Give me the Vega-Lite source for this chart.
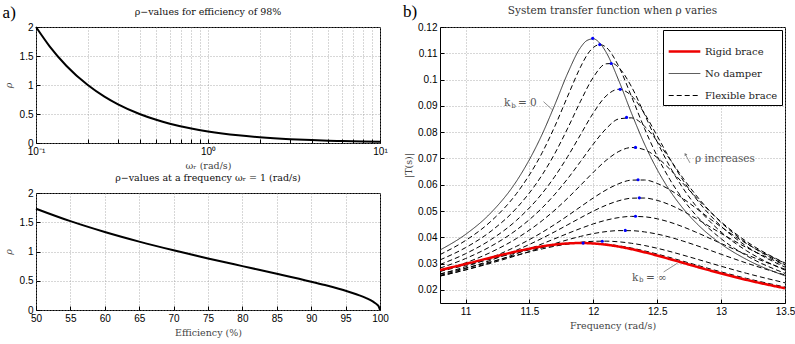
{
  "$schema": "https://vega.github.io/schema/vega-lite/v6.json",
  "background": "white",
  "padding": {"left": 2, "top": 3, "right": 2, "bottom": 2},
  "spacing": 14,
  "resolve": {"legend": {"color": "independent", "strokeDash": "independent", "strokeWidth": "independent"}},
  "hconcat": [
    {
      "title": {"text": "a)", "anchor": "start", "frame": "bounds", "font": "Liberation Serif", "fontSize": 17, "fontWeight": "normal", "color": "black", "offset": -16},
      "spacing": 2,
      "vconcat": [
        {
          "width": 344, "height": 116,
          "title": {"text": "ρ−values for efficiency of 98%", "offset": 6, "color": "#111", "fontSize": 9.5},
          "data": {"values": [
            {"w": 0.1, "rho": 2.0}, {"w": 0.12, "rho": 1.667}, {"w": 0.15, "rho": 1.333}, {"w": 0.2, "rho": 1.0},
            {"w": 0.25, "rho": 0.8}, {"w": 0.3, "rho": 0.667}, {"w": 0.4, "rho": 0.5}, {"w": 0.5, "rho": 0.4},
            {"w": 0.6, "rho": 0.333}, {"w": 0.8, "rho": 0.25}, {"w": 1, "rho": 0.2}, {"w": 1.5, "rho": 0.133},
            {"w": 2, "rho": 0.1}, {"w": 3, "rho": 0.0667}, {"w": 4, "rho": 0.05}, {"w": 5, "rho": 0.04},
            {"w": 6, "rho": 0.0333}, {"w": 8, "rho": 0.025}, {"w": 10, "rho": 0.02}
          ]},
          "mark": {"type": "line", "color": "black", "strokeWidth": 2, "interpolate": "monotone"},
          "encoding": {
            "x": {"field": "w", "type": "quantitative", "scale": {"type": "log", "domain": [0.1, 10], "nice": false},
              "axis": {"title": "ωᵣ (rad/s)", "grid": true, "labelOverlap": false, "values": [0.1, 0.2, 0.3, 0.4, 0.5, 0.6, 0.7, 0.8, 0.9, 1, 2, 3, 4, 5, 6, 7, 8, 9, 10],
                "labelExpr": "datum.value == 0.1 ? '10⁻¹' : datum.value == 1 ? '10⁰' : datum.value == 10 ? '10¹' : ''"}},
            "y": {"field": "rho", "type": "quantitative", "scale": {"domain": [0, 2], "nice": false},
              "axis": {"title": "ρ", "titleFontStyle": "italic", "grid": true, "labelOverlap": false, "values": [0, 0.5, 1, 1.5, 2], "format": ".2~g", "titlePadding": 6}}
          }
        },
        {
          "width": 344, "height": 117,
          "title": {"text": "ρ−values at a frequency ωᵣ = 1 (rad/s)", "offset": 6, "color": "#111", "fontSize": 9.5},
          "data": {"values": [
            {"e": 50, "rho": 1.732}, {"e": 55, "rho": 1.5185}, {"e": 60, "rho": 1.3333}, {"e": 65, "rho": 1.1691},
            {"e": 70, "rho": 1.0202}, {"e": 75, "rho": 0.8819}, {"e": 80, "rho": 0.75}, {"e": 85, "rho": 0.6197},
            {"e": 90, "rho": 0.4843}, {"e": 92, "rho": 0.426}, {"e": 94, "rho": 0.363}, {"e": 95, "rho": 0.3287},
            {"e": 96, "rho": 0.2917}, {"e": 97, "rho": 0.2506}, {"e": 98, "rho": 0.2031}, {"e": 99, "rho": 0.1425},
            {"e": 99.5, "rho": 0.1004}, {"e": 99.8, "rho": 0.0633}, {"e": 100, "rho": 0.0}
          ]},
          "mark": {"type": "line", "color": "black", "strokeWidth": 2, "interpolate": "monotone"},
          "encoding": {
            "x": {"field": "e", "type": "quantitative", "scale": {"domain": [50, 100], "nice": false},
              "axis": {"title": "Efficiency (%)", "grid": true, "labelOverlap": false, "values": [50, 55, 60, 65, 70, 75, 80, 85, 90, 95, 100]}},
            "y": {"field": "rho", "type": "quantitative", "scale": {"domain": [0, 2], "nice": false},
              "axis": {"title": "ρ", "titleFontStyle": "italic", "grid": true, "labelOverlap": false, "values": [0, 0.5, 1, 1.5, 2], "format": ".2~g", "titlePadding": 6}}
          }
        }
      ]
    },
    {
      "title": {"text": "b)", "anchor": "start", "frame": "bounds", "font": "Liberation Serif", "fontSize": 17, "fontWeight": "normal", "color": "black", "offset": -16},
      "resolve": {"legend": {"color": "independent", "strokeDash": "independent", "strokeWidth": "independent"}},
      "hconcat": [
        {
          "width": 345, "height": 276,
          "title": {"text": "System transfer function when ρ varies", "offset": 6, "fontSize": 10.5},
          "encoding": {
            "x": {"field": "f", "type": "quantitative", "scale": {"domain": [10.8, 13.5], "nice": false, "zero": false},
              "axis": {"title": "Frequency (rad/s)", "labelOverlap": false, "values": [11, 11.5, 12, 12.5, 13, 13.5], "format": ".3~g"}},
            "y": {"field": "t", "type": "quantitative", "scale": {"domain": [0.015, 0.12], "nice": false, "zero": false},
              "axis": {"title": "|T(s)|", "labelOverlap": false, "values": [0.02, 0.03, 0.04, 0.05, 0.06, 0.07, 0.08, 0.09, 0.1, 0.11, 0.12], "format": ".3~g", "titlePadding": 4}}
          },
          "layer": [
            {
              "data": {"values": [
                {"c":"k1","s":"F","f":10.8,"t":0.03342},{"c":"k1","s":"F","f":11.0,"t":0.03878},{"c":"k1","s":"F","f":11.2,"t":0.04615},{"c":"k1","s":"F","f":11.4,"t":0.05671},{"c":"k1","s":"F","f":11.6,"t":0.07222},{"c":"k1","s":"F","f":11.7,"t":0.08236},{"c":"k1","s":"F","f":11.8,"t":0.09376},{"c":"k1","s":"F","f":11.9,"t":0.1048},{"c":"k1","s":"F","f":11.95,"t":0.1093},{"c":"k1","s":"F","f":12.0,"t":0.1122},{"c":"k1","s":"F","f":12.05,"t":0.1133},{"c":"k1","s":"F","f":12.1,"t":0.1123},{"c":"k1","s":"F","f":12.2,"t":0.1049},{"c":"k1","s":"F","f":12.3,"t":0.0934},{"c":"k1","s":"F","f":12.4,"t":0.08147},{"c":"k1","s":"F","f":12.5,"t":0.07083},{"c":"k1","s":"F","f":12.6,"t":0.0619},{"c":"k1","s":"F","f":12.7,"t":0.05457},{"c":"k1","s":"F","f":12.8,"t":0.04855},{"c":"k1","s":"F","f":13.0,"t":0.03944},{"c":"k1","s":"F","f":13.2,"t":0.03298},{"c":"k1","s":"F","f":13.5,"t":0.02628},
                {"c":"k2","s":"F","f":10.8,"t":0.03139},{"c":"k2","s":"F","f":11.0,"t":0.03606},{"c":"k2","s":"F","f":11.2,"t":0.04236},{"c":"k2","s":"F","f":11.4,"t":0.05115},{"c":"k2","s":"F","f":11.6,"t":0.06378},{"c":"k2","s":"F","f":11.7,"t":0.072},{"c":"k2","s":"F","f":11.8,"t":0.08154},{"c":"k2","s":"F","f":11.9,"t":0.09176},{"c":"k2","s":"F","f":12.0,"t":0.1009},{"c":"k2","s":"F","f":12.1,"t":0.106},{"c":"k2","s":"F","f":12.15,"t":0.1061},{"c":"k2","s":"F","f":12.2,"t":0.1045},{"c":"k2","s":"F","f":12.3,"t":0.09715},{"c":"k2","s":"F","f":12.4,"t":0.08683},{"c":"k2","s":"F","f":12.5,"t":0.07627},{"c":"k2","s":"F","f":12.6,"t":0.06682},{"c":"k2","s":"F","f":12.7,"t":0.0588},{"c":"k2","s":"F","f":12.8,"t":0.05213},{"c":"k2","s":"F","f":13.0,"t":0.042},{"c":"k2","s":"F","f":13.2,"t":0.03485},{"c":"k2","s":"F","f":13.5,"t":0.02751},
                {"c":"k3","s":"F","f":10.8,"t":0.02965},{"c":"k3","s":"F","f":11.0,"t":0.03375},{"c":"k3","s":"F","f":11.2,"t":0.03916},{"c":"k3","s":"F","f":11.4,"t":0.04651},{"c":"k3","s":"F","f":11.6,"t":0.05673},{"c":"k3","s":"F","f":11.7,"t":0.06325},{"c":"k3","s":"F","f":11.8,"t":0.07077},{"c":"k3","s":"F","f":11.9,"t":0.07907},{"c":"k3","s":"F","f":12.0,"t":0.0873},{"c":"k3","s":"F","f":12.1,"t":0.09377},{"c":"k3","s":"F","f":12.2,"t":0.09631},{"c":"k3","s":"F","f":12.3,"t":0.09378},{"c":"k3","s":"F","f":12.4,"t":0.08713},{"c":"k3","s":"F","f":12.5,"t":0.07853},{"c":"k3","s":"F","f":12.6,"t":0.06978},{"c":"k3","s":"F","f":12.7,"t":0.06183},{"c":"k3","s":"F","f":12.8,"t":0.05495},{"c":"k3","s":"F","f":13.0,"t":0.04422},{"c":"k3","s":"F","f":13.2,"t":0.03654},{"c":"k3","s":"F","f":13.5,"t":0.02866},
                {"c":"k4","s":"F","f":10.8,"t":0.02826},{"c":"k4","s":"F","f":11.0,"t":0.03191},{"c":"k4","s":"F","f":11.2,"t":0.03662},{"c":"k4","s":"F","f":11.4,"t":0.04285},{"c":"k4","s":"F","f":11.6,"t":0.05122},{"c":"k4","s":"F","f":11.7,"t":0.05643},{"c":"k4","s":"F","f":11.8,"t":0.06234},{"c":"k4","s":"F","f":11.9,"t":0.06884},{"c":"k4","s":"F","f":12.0,"t":0.07546},{"c":"k4","s":"F","f":12.1,"t":0.08131},{"c":"k4","s":"F","f":12.2,"t":0.08504},{"c":"k4","s":"F","f":12.3,"t":0.08543},{"c":"k4","s":"F","f":12.4,"t":0.08229},{"c":"k4","s":"F","f":12.5,"t":0.07655},{"c":"k4","s":"F","f":12.6,"t":0.06963},{"c":"k4","s":"F","f":12.7,"t":0.06266},{"c":"k4","s":"F","f":12.8,"t":0.05623},{"c":"k4","s":"F","f":13.0,"t":0.04563},{"c":"k4","s":"F","f":13.2,"t":0.03777},{"c":"k4","s":"F","f":13.5,"t":0.02958},
                {"c":"k5","s":"F","f":10.8,"t":0.02703},{"c":"k5","s":"F","f":11.0,"t":0.03026},{"c":"k5","s":"F","f":11.2,"t":0.03434},{"c":"k5","s":"F","f":11.4,"t":0.03958},{"c":"k5","s":"F","f":11.6,"t":0.04635},{"c":"k5","s":"F","f":11.7,"t":0.05041},{"c":"k5","s":"F","f":11.8,"t":0.05492},{"c":"k5","s":"F","f":11.9,"t":0.05978},{"c":"k5","s":"F","f":12.0,"t":0.06473},{"c":"k5","s":"F","f":12.1,"t":0.06926},{"c":"k5","s":"F","f":12.2,"t":0.07266},{"c":"k5","s":"F","f":12.3,"t":0.07416},{"c":"k5","s":"F","f":12.4,"t":0.07333},{"c":"k5","s":"F","f":12.5,"t":0.07032},{"c":"k5","s":"F","f":12.6,"t":0.06582},{"c":"k5","s":"F","f":12.7,"t":0.06062},{"c":"k5","s":"F","f":12.8,"t":0.05535},{"c":"k5","s":"F","f":13.0,"t":0.04588},{"c":"k5","s":"F","f":13.2,"t":0.03836},{"c":"k5","s":"F","f":13.5,"t":0.0302},
                {"c":"k6","s":"F","f":10.8,"t":0.02597},{"c":"k6","s":"F","f":11.0,"t":0.02881},{"c":"k6","s":"F","f":11.2,"t":0.03229},{"c":"k6","s":"F","f":11.4,"t":0.0366},{"c":"k6","s":"F","f":11.6,"t":0.0419},{"c":"k6","s":"F","f":11.7,"t":0.04495},{"c":"k6","s":"F","f":11.8,"t":0.04821},{"c":"k6","s":"F","f":11.9,"t":0.05161},{"c":"k6","s":"F","f":12.0,"t":0.05497},{"c":"k6","s":"F","f":12.1,"t":0.05801},{"c":"k6","s":"F","f":12.2,"t":0.0604},{"c":"k6","s":"F","f":12.3,"t":0.06174},{"c":"k6","s":"F","f":12.4,"t":0.06179},{"c":"k6","s":"F","f":12.5,"t":0.06048},{"c":"k6","s":"F","f":12.6,"t":0.05804},{"c":"k6","s":"F","f":12.7,"t":0.05482},{"c":"k6","s":"F","f":12.8,"t":0.05121},{"c":"k6","s":"F","f":13.0,"t":0.04395},{"c":"k6","s":"F","f":13.2,"t":0.03757},{"c":"k6","s":"F","f":13.5,"t":0.03012},
                {"c":"k7","s":"F","f":10.8,"t":0.02551},{"c":"k7","s":"F","f":11.0,"t":0.02813},{"c":"k7","s":"F","f":11.2,"t":0.0313},{"c":"k7","s":"F","f":11.4,"t":0.03511},{"c":"k7","s":"F","f":11.6,"t":0.03964},{"c":"k7","s":"F","f":11.7,"t":0.04215},{"c":"k7","s":"F","f":11.8,"t":0.04477},{"c":"k7","s":"F","f":11.9,"t":0.04742},{"c":"k7","s":"F","f":12.0,"t":0.04996},{"c":"k7","s":"F","f":12.1,"t":0.0522},{"c":"k7","s":"F","f":12.2,"t":0.05391},{"c":"k7","s":"F","f":12.3,"t":0.05487},{"c":"k7","s":"F","f":12.4,"t":0.05493},{"c":"k7","s":"F","f":12.5,"t":0.05404},{"c":"k7","s":"F","f":12.6,"t":0.05233},{"c":"k7","s":"F","f":12.7,"t":0.04999},{"c":"k7","s":"F","f":12.8,"t":0.04727},{"c":"k7","s":"F","f":13.0,"t":0.04148},{"c":"k7","s":"F","f":13.2,"t":0.03607},{"c":"k7","s":"F","f":13.5,"t":0.02942},
                {"c":"k8","s":"F","f":10.8,"t":0.02522},{"c":"k8","s":"F","f":11.0,"t":0.02764},{"c":"k8","s":"F","f":11.2,"t":0.03048},{"c":"k8","s":"F","f":11.4,"t":0.03379},{"c":"k8","s":"F","f":11.6,"t":0.03752},{"c":"k8","s":"F","f":11.7,"t":0.03949},{"c":"k8","s":"F","f":11.8,"t":0.04146},{"c":"k8","s":"F","f":11.9,"t":0.04336},{"c":"k8","s":"F","f":12.0,"t":0.04509},{"c":"k8","s":"F","f":12.1,"t":0.04651},{"c":"k8","s":"F","f":12.2,"t":0.0475},{"c":"k8","s":"F","f":12.3,"t":0.04795},{"c":"k8","s":"F","f":12.4,"t":0.04779},{"c":"k8","s":"F","f":12.5,"t":0.04703},{"c":"k8","s":"F","f":12.6,"t":0.04573},{"c":"k8","s":"F","f":12.7,"t":0.04401},{"c":"k8","s":"F","f":12.8,"t":0.04201},{"c":"k8","s":"F","f":13.0,"t":0.03765},{"c":"k8","s":"F","f":13.2,"t":0.03339},{"c":"k8","s":"F","f":13.5,"t":0.02785},
                {"c":"k9","s":"F","f":10.8,"t":0.0253},{"c":"k9","s":"F","f":11.0,"t":0.02757},{"c":"k9","s":"F","f":11.2,"t":0.03017},{"c":"k9","s":"F","f":11.4,"t":0.03305},{"c":"k9","s":"F","f":11.6,"t":0.03611},{"c":"k9","s":"F","f":11.7,"t":0.03763},{"c":"k9","s":"F","f":11.8,"t":0.03906},{"c":"k9","s":"F","f":11.9,"t":0.04034},{"c":"k9","s":"F","f":12.0,"t":0.0414},{"c":"k9","s":"F","f":12.1,"t":0.04216},{"c":"k9","s":"F","f":12.2,"t":0.04254},{"c":"k9","s":"F","f":12.3,"t":0.04251},{"c":"k9","s":"F","f":12.4,"t":0.04205},{"c":"k9","s":"F","f":12.5,"t":0.04121},{"c":"k9","s":"F","f":12.6,"t":0.04003},{"c":"k9","s":"F","f":12.7,"t":0.03859},{"c":"k9","s":"F","f":12.8,"t":0.03699},{"c":"k9","s":"F","f":13.0,"t":0.03355},{"c":"k9","s":"F","f":13.2,"t":0.03017},{"c":"k9","s":"F","f":13.5,"t":0.02567},
                {"c":"k10","s":"F","f":10.8,"t":0.02607},{"c":"k10","s":"F","f":11.0,"t":0.02829},{"c":"k10","s":"F","f":11.2,"t":0.03071},{"c":"k10","s":"F","f":11.4,"t":0.03321},{"c":"k10","s":"F","f":11.6,"t":0.03559},{"c":"k10","s":"F","f":11.7,"t":0.03662},{"c":"k10","s":"F","f":11.8,"t":0.03748},{"c":"k10","s":"F","f":11.9,"t":0.03811},{"c":"k10","s":"F","f":12.0,"t":0.03847},{"c":"k10","s":"F","f":12.1,"t":0.03853},{"c":"k10","s":"F","f":12.2,"t":0.03827},{"c":"k10","s":"F","f":12.3,"t":0.03771},{"c":"k10","s":"F","f":12.4,"t":0.03688},{"c":"k10","s":"F","f":12.5,"t":0.03582},{"c":"k10","s":"F","f":12.6,"t":0.03459},{"c":"k10","s":"F","f":12.7,"t":0.03324},{"c":"k10","s":"F","f":12.8,"t":0.03184},{"c":"k10","s":"F","f":13.0,"t":0.02899},{"c":"k10","s":"F","f":13.2,"t":0.02628},{"c":"k10","s":"F","f":13.5,"t":0.02268},
                {"c":"k11","s":"F","f":10.8,"t":0.02706},{"c":"k11","s":"F","f":11.0,"t":0.02934},{"c":"k11","s":"F","f":11.2,"t":0.03175},{"c":"k11","s":"F","f":11.4,"t":0.03412},{"c":"k11","s":"F","f":11.6,"t":0.03615},{"c":"k11","s":"F","f":11.7,"t":0.03692},{"c":"k11","s":"F","f":11.8,"t":0.03746},{"c":"k11","s":"F","f":11.9,"t":0.03773},{"c":"k11","s":"F","f":12.0,"t":0.0377},{"c":"k11","s":"F","f":12.1,"t":0.03738},{"c":"k11","s":"F","f":12.2,"t":0.03677},{"c":"k11","s":"F","f":12.3,"t":0.0359},{"c":"k11","s":"F","f":12.4,"t":0.03484},{"c":"k11","s":"F","f":12.5,"t":0.03362},{"c":"k11","s":"F","f":12.6,"t":0.0323},{"c":"k11","s":"F","f":12.7,"t":0.03093},{"c":"k11","s":"F","f":12.8,"t":0.02954},{"c":"k11","s":"F","f":13.0,"t":0.02684},{"c":"k11","s":"F","f":13.2,"t":0.02435},{"c":"k11","s":"F","f":13.5,"t":0.02108},
                {"c":"N","s":"N","f":10.8,"t":0.03515},{"c":"N","s":"N","f":11.0,"t":0.0411},{"c":"N","s":"N","f":11.2,"t":0.0494},{"c":"N","s":"N","f":11.4,"t":0.06145},{"c":"N","s":"N","f":11.6,"t":0.07925},{"c":"N","s":"N","f":11.7,"t":0.09059},{"c":"N","s":"N","f":11.8,"t":0.1025},{"c":"N","s":"N","f":11.9,"t":0.1122},{"c":"N","s":"N","f":11.95,"t":0.11486},{"c":"N","s":"N","f":12.0,"t":0.1155},{"c":"N","s":"N","f":12.05,"t":0.1139},{"c":"N","s":"N","f":12.1,"t":0.1104},{"c":"N","s":"N","f":12.2,"t":0.09952},{"c":"N","s":"N","f":12.3,"t":0.08706},{"c":"N","s":"N","f":12.4,"t":0.07552},{"c":"N","s":"N","f":12.5,"t":0.06573},{"c":"N","s":"N","f":12.6,"t":0.05768},{"c":"N","s":"N","f":12.7,"t":0.0511},{"c":"N","s":"N","f":12.8,"t":0.04569},{"c":"N","s":"N","f":13.0,"t":0.03745},{"c":"N","s":"N","f":13.2,"t":0.03154},{"c":"N","s":"N","f":13.5,"t":0.02534},
                {"c":"R","s":"R","f":10.8,"t":0.02752},{"c":"R","s":"R","f":11.0,"t":0.02985},{"c":"R","s":"R","f":11.2,"t":0.03229},{"c":"R","s":"R","f":11.4,"t":0.03463},{"c":"R","s":"R","f":11.6,"t":0.03655},{"c":"R","s":"R","f":11.7,"t":0.03723},{"c":"R","s":"R","f":11.8,"t":0.03766},{"c":"R","s":"R","f":11.9,"t":0.03781},{"c":"R","s":"R","f":12.0,"t":0.03765},{"c":"R","s":"R","f":12.1,"t":0.03718},{"c":"R","s":"R","f":12.2,"t":0.03645},{"c":"R","s":"R","f":12.3,"t":0.03548},{"c":"R","s":"R","f":12.4,"t":0.03432},{"c":"R","s":"R","f":12.5,"t":0.03305},{"c":"R","s":"R","f":12.6,"t":0.03169},{"c":"R","s":"R","f":12.7,"t":0.0303},{"c":"R","s":"R","f":12.8,"t":0.02891},{"c":"R","s":"R","f":13.0,"t":0.02623},{"c":"R","s":"R","f":13.2,"t":0.02378},{"c":"R","s":"R","f":13.5,"t":0.0206}
              ]},
              "mark": {"type": "line", "interpolate": "monotone"},
              "encoding": {
                "detail": {"field": "c"},
                "color": {"field": "s", "type": "nominal", "scale": {"domain": ["R", "N", "F"], "range": ["#ee0000", "#333333", "#000000"]},
                  "legend": {"labelExpr": "datum.label == 'R' ? 'Rigid brace' : datum.label == 'N' ? 'No damper' : 'Flexible brace'"}},
                "strokeDash": {"field": "s", "type": "nominal", "scale": {"domain": ["R", "N", "F"], "range": [[1, 0], [1, 0], [5, 3]]},
                  "legend": {"labelExpr": "datum.label == 'R' ? 'Rigid brace' : datum.label == 'N' ? 'No damper' : 'Flexible brace'"}},
                "strokeWidth": {"field": "s", "type": "nominal", "scale": {"type": "ordinal", "domain": ["R", "N", "F"], "range": [2.5, 1, 1]},
                  "legend": {"labelExpr": "datum.label == 'R' ? 'Rigid brace' : datum.label == 'N' ? 'No damper' : 'Flexible brace'"}}
              }
            },
            {
              "data": {"values": [
                {"f": 11.995, "t": 0.1157}, {"f": 12.05, "t": 0.1133}, {"f": 12.14, "t": 0.1061}, {"f": 12.21, "t": 0.0963},
                {"f": 12.26, "t": 0.0856}, {"f": 12.33, "t": 0.0742}, {"f": 12.35, "t": 0.0619}, {"f": 12.36, "t": 0.055},
                {"f": 12.33, "t": 0.048}, {"f": 12.25, "t": 0.0426}, {"f": 12.07, "t": 0.0385}, {"f": 11.92, "t": 0.0378}
              ]},
              "mark": {"type": "point", "filled": true, "color": "#0000ff", "size": 10, "opacity": 1}
            },
            {
              "data": {"values": [
                {"f": 11.61, "t": 0.0916, "f2": 11.675, "t2": 0.0887},
                {"f": 12.55, "t": 0.0268, "f2": 12.66, "t2": 0.0302},
                {"f": 12.756, "t": 0.0683, "f2": 12.722, "t2": 0.0714}
              ]},
              "mark": {"type": "rule", "color": "#777", "strokeWidth": 0.8},
              "encoding": {"x2": {"field": "f2"}, "y2": {"field": "t2"}}
            },
            {
              "data": {"values": [{"f": 12.72, "t": 0.0716}]},
              "mark": {"type": "point", "shape": "triangle-up", "filled": true, "color": "#777", "size": 10, "angle": 330, "opacity": 1}
            },
            {
              "data": {"values": [
                {"f": 11.301, "t": 0.0911, "label": "k"}, {"f": 11.41, "t": 0.0911, "label": "= 0"},
                {"f": 12.302, "t": 0.0247, "label": "k"}, {"f": 12.412, "t": 0.0247, "label": "= ∞"},
                {"f": 12.795, "t": 0.0699, "label": "ρ increases"}
              ]},
              "mark": {"type": "text", "align": "left", "baseline": "middle", "font": "DejaVu Serif", "fontSize": 10.5, "color": "#555"},
              "encoding": {"text": {"field": "label"}}
            },
            {
              "data": {"values": [
                {"f": 11.357, "t": 0.0900, "label": "b"}, {"f": 12.358, "t": 0.0236, "label": "b"}
              ]},
              "mark": {"type": "text", "align": "left", "baseline": "middle", "font": "DejaVu Serif", "fontSize": 7, "color": "#555"},
              "encoding": {"text": {"field": "label"}}
            }
          ]
        }
      ]
    }
  ],
  "config": {
    "view": {"stroke": "black", "strokeWidth": 1},
    "axis": {"domain": false, "labelFont": "Liberation Sans", "labelFontSize": 10, "labelColor": "black", "tickColor": "black", "tickSize": -4, "labelPadding": 7,
      "titleFont": "DejaVu Serif", "titleFontSize": 9.5, "titleFontWeight": "normal", "titleColor": "#444",
      "gridColor": "#999", "gridDash": [1, 2], "gridWidth": 0.8, "labelFlush": false, "labelOverlap": false},
    "title": {"font": "DejaVu Serif", "fontSize": 10, "fontWeight": "normal", "color": "#333"},
    "legend": {"orient": "top-right", "offset": 3, "title": null, "strokeColor": "black", "fillColor": "white", "padding": 4,
      "labelFont": "DejaVu Serif", "labelFontSize": 10, "labelColor": "#222", "symbolType": "stroke", "symbolSize": 1000, "rowPadding": -6, "labelOffset": 3}
  }
}
